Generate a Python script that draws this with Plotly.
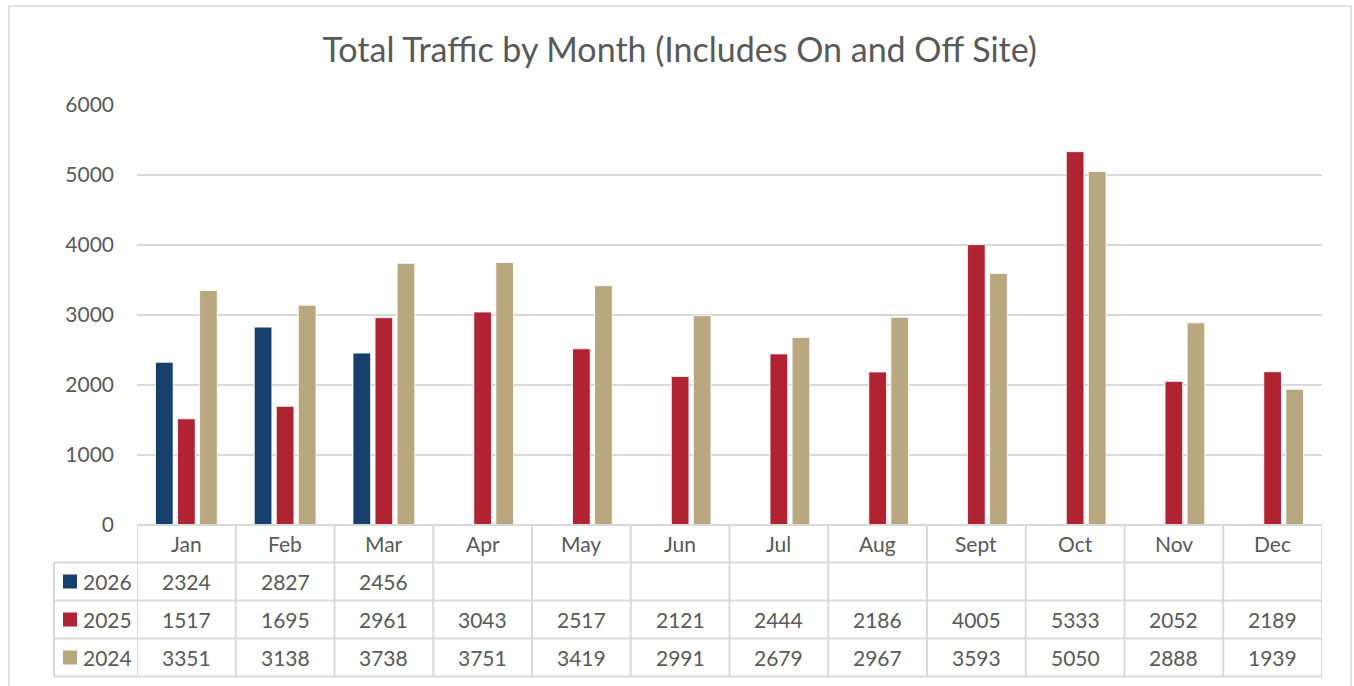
import plotly.graph_objects as go

months = ["Jan", "Feb", "Mar", "Apr", "May", "Jun", "Jul", "Aug", "Sept", "Oct", "Nov", "Dec"]
y2026 = [2324, 2827, 2456, None, None, None, None, None, None, None, None, None]
y2025 = [1517, 1695, 2961, 3043, 2517, 2121, 2444, 2186, 4005, 5333, 2052, 2189]
y2024 = [3351, 3138, 3738, 3751, 3419, 2991, 2679, 2967, 3593, 5050, 2888, 1939]
series_names = ["2026", "2025", "2024"]
series_values = [y2026, y2025, y2024]
colors = ["#163F6B", "#AF2332", "#B8A77F"]
y_ticks = [0, 1000, 2000, 3000, 4000, 5000, 6000]

W, H = 1354, 686
L, R, T, B = 137, 1322, 105, 525
FONT = "Lato, 'Open Sans', sans-serif"
TXT = "#595959"
GRID = "#D9D9D9"
FS = 21

def py(p):  # pixel y -> paper y
    return (B - p) / (B - T)

def px(p):  # pixel x -> paper x
    return (p - L) / (R - L)

fig = go.Figure()
for name, vals, c in zip(series_names, series_values, colors):
    fig.add_trace(go.Bar(x=months, y=vals, name=name, marker=dict(color=c, line=dict(color="white", width=0.8)),
                         showlegend=False))

shapes = []
annotations = []
n = len(months)
row_edges = [525, 562.5, 600.5, 638.5, 676.5]
shapes.append(dict(type="line", xref="x", yref="paper", x0=-0.5, x1=n - 0.5, y0=py(row_edges[0]), y1=py(row_edges[0]),
                   line=dict(color=GRID, width=2)))
for e in row_edges[1:]:
    shapes.append(dict(type="line", xref="paper", yref="paper", x0=px(54), x1=1, y0=py(e), y1=py(e),
                       line=dict(color=GRID, width=2)))
for i in range(n + 1):
    shapes.append(dict(type="line", xref="x", yref="paper", x0=i - 0.5, x1=i - 0.5, y0=py(row_edges[0]), y1=py(row_edges[-1]),
                       line=dict(color=GRID, width=2)))
shapes.append(dict(type="line", xref="paper", yref="paper", x0=px(54), x1=px(54), y0=py(row_edges[1]), y1=py(row_edges[-1]),
                   line=dict(color=GRID, width=2)))
shapes.append(dict(type="rect", xref="paper", yref="paper", x0=px(9), x1=px(1351), y0=py(6), y1=py(700),
                   line=dict(color=GRID, width=1.5), layer="below"))

for m in months:
    annotations.append(dict(x=m, y=py((row_edges[0] + row_edges[1]) / 2), xref="x", yref="paper", text=m,
                            xanchor="center", yanchor="middle",
                            showarrow=False, font=dict(size=FS, color=TXT, family=FONT)))
for r, (name, vals, c) in enumerate(zip(series_names, series_values, colors)):
    yc = py((row_edges[r + 1] + row_edges[r + 2]) / 2)
    shapes.append(dict(type="rect", xref="paper", yref="paper", x0=px(63), x1=px(77), y0=yc - 7 / 420, y1=yc + 7 / 420,
                       fillcolor=c, line=dict(width=0)))
    annotations.append(dict(x=px(81), y=yc, xref="paper", yref="paper", text=name, xanchor="left", yanchor="middle",
                            showarrow=False, font=dict(size=FS, color=TXT, family=FONT)))
    for m, v in zip(months, vals):
        if v is not None:
            annotations.append(dict(x=m, y=yc, xref="x", yref="paper", text=str(v),
                                    xanchor="center", yanchor="middle",
                                    showarrow=False, font=dict(size=FS, color=TXT, family=FONT)))

fig.update_layout(
    width=W, height=H,
    margin=dict(l=L, r=W - R, t=T, b=H - B),
    paper_bgcolor="white", plot_bgcolor="white",
    barmode="group", bargap=0.33, bargroupgap=0.2,
    title=dict(text="Total Traffic by Month (Includes On and Off Site)", x=0.502, xanchor="center",
               y=1 - 50 / H, yanchor="middle", font=dict(size=34, color=TXT, family=FONT)),
    xaxis=dict(showticklabels=False, showgrid=False, zeroline=False, showline=False, ticks="",
               range=[-0.5, n - 0.5]),
    yaxis=dict(range=[0, 6000], tickvals=y_ticks, showgrid=True, gridcolor=GRID, gridwidth=1.5,
               zeroline=False, showline=False, ticks="", ticklabelstandoff=22,
               tickfont=dict(size=FS, color=TXT, family=FONT)),
    shapes=shapes, annotations=annotations,
)

fig.write_html("out.html", config={"displayModeBar": False},
               post_script="document.body.style.margin='0';document.body.style.overflow='hidden';")
